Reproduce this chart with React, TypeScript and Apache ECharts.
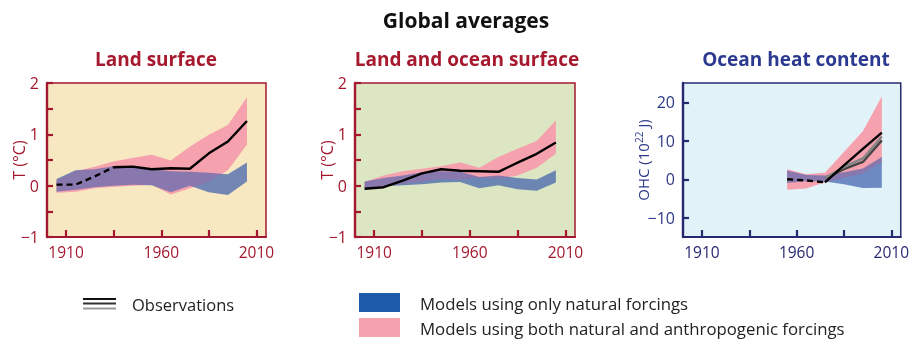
import React, { useEffect, useRef } from "react";
import * as echarts from "echarts";

// Decadal means, centred on each decade
const years = [1905, 1915, 1925, 1935, 1945, 1955, 1965, 1975, 1985, 1995, 2005];
const ohcYears = [1955, 1965, 1975, 1985, 1995, 2005];

// Land surface temperature anomaly (°C)
const landObs = [0.02, 0.02, 0.18, 0.36, 0.37, 0.32, 0.34, 0.33, 0.63, 0.86, 1.26];
const landBothHi = [0.10, 0.28, 0.37, 0.47, 0.54, 0.60, 0.49, 0.76, 0.99, 1.18, 1.72];
const landBothLo = [-0.14, -0.12, -0.05, -0.02, 0.0, 0.02, -0.17, -0.05, 0.08, 0.3, 0.8];
const landNatHi = [0.13, 0.3, 0.32, 0.38, 0.38, 0.33, 0.28, 0.27, 0.25, 0.22, 0.45];
const landNatLo = [-0.12, -0.08, -0.03, 0.0, 0.02, 0.01, -0.13, 0.0, -0.13, -0.18, 0.08];
const landDashedUntil = 3; // index where the observed record turns solid

// Land and ocean surface temperature anomaly (°C)
const seaObs = [-0.06, -0.03, 0.1, 0.24, 0.32, 0.29, 0.28, 0.27, 0.45, 0.62, 0.84];
const seaBothHi = [0.07, 0.2, 0.28, 0.33, 0.38, 0.45, 0.35, 0.56, 0.72, 0.87, 1.27];
const seaBothLo = [-0.05, -0.02, 0.04, 0.08, 0.13, 0.12, 0.16, 0.14, 0.2, 0.35, 0.62];
const seaNatHi = [0.08, 0.15, 0.2, 0.26, 0.28, 0.27, 0.17, 0.2, 0.15, 0.12, 0.3];
const seaNatLo = [-0.05, -0.01, 0.01, 0.03, 0.06, 0.07, -0.05, 0.01, -0.07, -0.1, 0.06];

// Ocean heat content (10^22 J)
const ohcObsA = [0.0, -0.3, -0.8, 3.6, 7.9, 12.1];
const ohcObsB = [null, null, 0.3, 3.2, 5.4, 11.1];
const ohcObsC = [null, null, 0.2, 2.6, 4.5, 10.1];
const ohcDashedUntil = 2;
const ohcBothHi = [2.6, 1.3, 1.7, 7.1, 12.5, 21.5];
const ohcBothLo = [-2.7, -2.4, -0.8, 0.4, 1.5, 4.5];
const ohcNatHi = [2.3, 1.1, 1.0, 1.8, 2.8, 5.8];
const ohcNatLo = [-1.0, -0.5, -0.6, -1.3, -2.3, -2.2];

// Axis ticks and labels
const xTicks = [1910, 1935, 1960, 1985, 2010];
const xLabels = [1910, 1960, 2010];
const tLabels = [-1, 0, 1, 2];
const ohcTicks = [-10, 0, 10, 20];

const FONT = "'Open Sans', 'Noto Sans', sans-serif";
const RED = "#a3182e";
const NAVY = "#27286f";
const NAVY_TEXT = "#2e3a88";
const PINK = "#f6a1ae";
const PINK_TINT = "rgba(246, 161, 174, 0.16)";
const BLUE = "rgba(60, 93, 172, 0.7)";
const BLUE_KEY = "#1d5aa8";

const minus = (v: number) => (v < 0 ? "\u2212" + Math.abs(v) : String(v));

// Shaded model range between lo and hi, drawn as one polygon through the grid's scales
function band(idx: number, xs: number[], lo: number[], hi: number[], color: string, z = 2) {
  return {
    type: "custom",
    xAxisIndex: idx,
    yAxisIndex: idx,
    silent: true,
    z,
    data: xs.map((x, i) => [x, lo[i], hi[i]]),
    encode: { x: 0, y: [1, 2] },
    renderItem: (params: any, api: any) => {
      if (params.dataIndex !== 0) return null;
      const upper = xs.map((x, i) => api.coord([x, hi[i]]));
      const lower = xs.map((x, i) => api.coord([x, lo[i]])).reverse();
      return { type: "polygon", shape: { points: upper.concat(lower) }, style: { fill: color } };
    },
  };
}

// Both ranges: anthropogenic underneath, natural over it, and a faint anthropogenic wash
// on top so that the overlap reads purple
function ranges(idx: number, xs: number[], bLo: number[], bHi: number[], nLo: number[], nHi: number[]) {
  return [
    band(idx, xs, bLo, bHi, PINK, 2),
    band(idx, xs, nLo, nHi, BLUE, 3),
    band(idx, xs, bLo, bHi, PINK_TINT, 4),
  ];
}

function obsLine(idx: number, xs: number[], ys: (number | null)[], color: string, dashed = false) {
  return {
    type: "line",
    xAxisIndex: idx,
    yAxisIndex: idx,
    symbol: "none",
    silent: true,
    data: xs.map((x, i) => [x, ys[i]]),
    lineStyle: { color, width: 2.4, type: dashed ? [6, 4] : "solid" },
    z: 5,
  };
}

function xAxis(idx: number, color: string) {
  return {
    gridIndex: idx,
    type: "value",
    min: 1900,
    max: 2015,
    axisLine: { show: true, onZero: false, lineStyle: { color, width: 2 } },
    axisTick: { show: true, inside: true, length: 7, customValues: xTicks, lineStyle: { color, width: 2.2 } },
    axisLabel: { customValues: xLabels, formatter: (v: number) => String(v), color, fontSize: 15.5, fontFamily: FONT, margin: 7 },
    splitLine: { show: false },
  };
}

export default function App() {
  const ref = useRef<HTMLDivElement>(null);

  useEffect(() => {
    if (!ref.current) return;
    const chart = echarts.init(ref.current, undefined, { renderer: "svg" });

    const grids = [
      { left: 47, top: 83, width: 219, height: 154, backgroundColor: "#f7e8c1", borderColor: RED },
      { left: 355, top: 83, width: 220, height: 154, backgroundColor: "#dde6c2", borderColor: RED },
      { left: 683, top: 83, width: 220, height: 154, backgroundColor: "#e1f3f8", borderColor: NAVY },
    ].map((g) => ({ ...g, show: true, borderWidth: 1.5 }));

    const tAxis = (idx: number) => ({
      gridIndex: idx,
      type: "value",
      min: -1,
      max: 2,
      interval: 0.5,
      name: "T (°C)",
      nameLocation: "middle",
      nameGap: 20,
      nameMoveOverlap: false,
      nameTextStyle: { color: RED, fontSize: 16, fontFamily: FONT },
      axisLine: { show: true, onZero: false, lineStyle: { color: RED, width: 2.4 } },
      axisTick: { show: true, inside: true, length: 6, lineStyle: { color: RED, width: 2.2 } },
      axisLabel: { customValues: tLabels, formatter: minus, color: RED, fontSize: 16, fontFamily: FONT, margin: 8 },
      splitLine: { show: false },
    });

    const option = {
      animation: false,
      grid: grids,
      xAxis: [xAxis(0, RED), xAxis(1, RED), xAxis(2, NAVY)],
      yAxis: [
        tAxis(0),
        tAxis(1),
        {
          gridIndex: 2,
          type: "value",
          min: -15,
          max: 25,
          name: "OHC (10{sup|22} J)",
          nameLocation: "middle",
          nameGap: 31,
          nameMoveOverlap: false,
          nameTextStyle: {
            color: NAVY_TEXT,
            fontSize: 15,
            fontFamily: FONT,
            rich: { sup: { fontSize: 10, fontFamily: FONT, color: NAVY_TEXT, padding: [0, 0, 8, 0] } },
          },
          axisLine: { show: true, onZero: false, lineStyle: { color: NAVY, width: 2.4 } },
          axisTick: { show: true, inside: true, length: 6, customValues: ohcTicks, lineStyle: { color: NAVY, width: 2.2 } },
          axisLabel: { customValues: ohcTicks, formatter: minus, color: NAVY_TEXT, fontSize: 16, fontFamily: FONT, margin: 8 },
          splitLine: { show: false },
        },
      ],
      series: [
        ...ranges(0, years, landBothLo, landBothHi, landNatLo, landNatHi),
        obsLine(0, years.slice(0, landDashedUntil + 1), landObs.slice(0, landDashedUntil + 1), "#000", true),
        obsLine(0, years.slice(landDashedUntil), landObs.slice(landDashedUntil), "#000"),

        ...ranges(1, years, seaBothLo, seaBothHi, seaNatLo, seaNatHi),
        obsLine(1, years, seaObs, "#000"),

        ...ranges(2, ohcYears, ohcBothLo, ohcBothHi, ohcNatLo, ohcNatHi),
        obsLine(2, ohcYears, ohcObsC, "#444"),
        obsLine(2, ohcYears, ohcObsB, "#858585"),
        obsLine(2, ohcYears.slice(0, ohcDashedUntil + 1), ohcObsA.slice(0, ohcDashedUntil + 1), "#000", true),
        obsLine(2, ohcYears.slice(ohcDashedUntil), ohcObsA.slice(ohcDashedUntil), "#000"),
      ],
      graphic: [
        { type: "text", x: 466, y: 9, style: { text: "Global averages", fill: "#111", font: `bold 21px ${FONT}`, textAlign: "center" } },
        { type: "text", x: 156, y: 49, style: { text: "Land surface", fill: "#a6192e", font: `bold 19px ${FONT}`, textAlign: "center" } },
        { type: "text", x: 467, y: 49, style: { text: "Land and ocean surface", fill: "#a6192e", font: `bold 19px ${FONT}`, textAlign: "center" } },
        { type: "text", x: 796, y: 49, style: { text: "Ocean heat content", fill: "#2b3990", font: `bold 19px ${FONT}`, textAlign: "center" } },

        // Key
        { type: "line", shape: { x1: 83, y1: 299, x2: 116, y2: 299 }, style: { stroke: "#111", lineWidth: 2.2 } },
        { type: "line", shape: { x1: 83, y1: 303.5, x2: 116, y2: 303.5 }, style: { stroke: "#333", lineWidth: 2.2 } },
        { type: "line", shape: { x1: 83, y1: 308.5, x2: 116, y2: 308.5 }, style: { stroke: "#9a9a9a", lineWidth: 2.2 } },
        { type: "text", x: 132, y: 304, style: { text: "Observations", fill: "#222", font: `16.5px ${FONT}`, textVerticalAlign: "middle" } },
        { type: "rect", shape: { x: 359, y: 293, width: 41, height: 19 }, style: { fill: BLUE_KEY } },
        { type: "rect", shape: { x: 359, y: 318, width: 41, height: 19 }, style: { fill: PINK } },
        { type: "text", x: 420, y: 303, style: { text: "Models using only natural forcings", fill: "#222", font: `16.8px ${FONT}`, textVerticalAlign: "middle" } },
        { type: "text", x: 420, y: 328, style: { text: "Models using both natural and anthropogenic forcings", fill: "#222", font: `16.8px ${FONT}`, textVerticalAlign: "middle" } },
      ],
    };

    chart.setOption(option as any);
    return () => chart.dispose();
  }, []);

  return <div ref={ref} style={{ position: "fixed", left: 0, top: 0, width: 912, height: 340 }} />;
}
